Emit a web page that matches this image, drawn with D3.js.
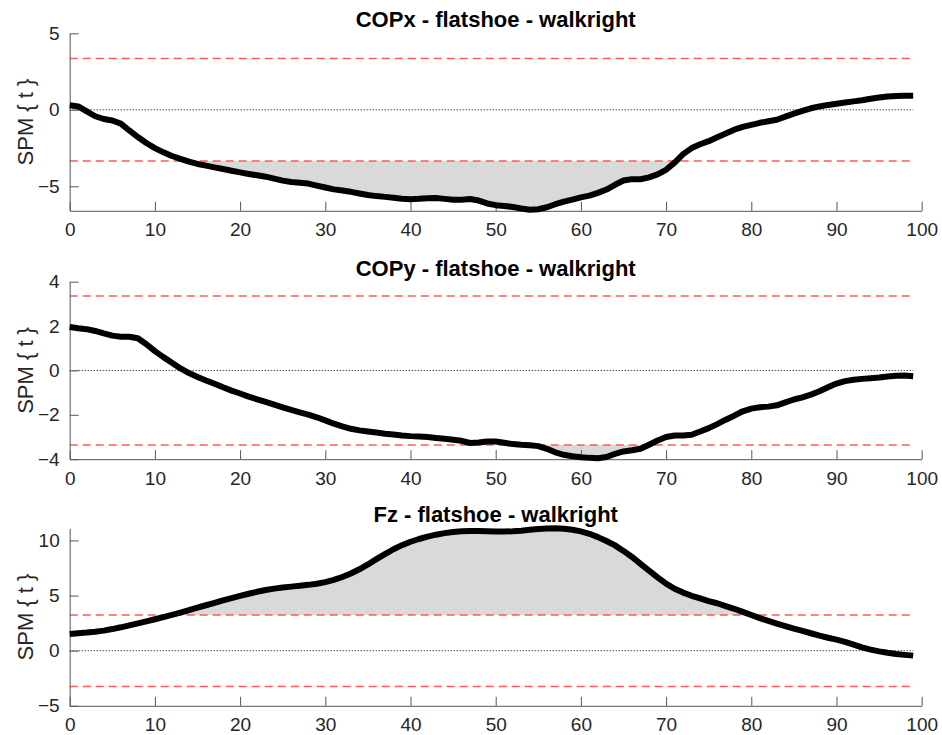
<!DOCTYPE html>
<html>
<head>
<meta charset="utf-8">
<script src="https://cdn.jsdelivr.net/npm/d3@7"></script>
<style>
  body { margin: 0; background: #fff; }
  svg { display: block; font-family: "Liberation Sans", Arial, Helvetica, sans-serif; }
</style>
</head>
<body>
<svg width="942" height="735"></svg>
<script>
// time axis, 0..99 (% of stance)
let nodes = d3.range(0, 100);

let copx = [0.3, 0.22, -0.1, -0.42, -0.6, -0.7, -0.9, -1.35, -1.78, -2.17,
    -2.5, -2.78, -3.02, -3.21, -3.39, -3.54, -3.65, -3.76, -3.87, -3.98,
    -4.09, -4.19, -4.28, -4.37, -4.5, -4.63, -4.72, -4.76, -4.82, -4.95,
    -5.08, -5.2, -5.27, -5.36, -5.47, -5.57, -5.64, -5.69, -5.75, -5.81,
    -5.84, -5.82, -5.78, -5.76, -5.82, -5.88, -5.88, -5.83, -5.93, -6.12,
    -6.23, -6.28, -6.35, -6.45, -6.53, -6.5, -6.37, -6.17, -6.0, -5.87,
    -5.72, -5.61, -5.43, -5.21, -4.9, -4.62, -4.53, -4.54, -4.42, -4.22,
    -3.92, -3.45, -2.9, -2.5, -2.25, -2.05, -1.8, -1.55, -1.3, -1.12,
    -0.98, -0.85, -0.75, -0.65, -0.45, -0.25, -0.07, 0.1, 0.22, 0.32,
    0.4, 0.48, 0.55, 0.62, 0.72, 0.8, 0.87, 0.9, 0.92, 0.92];

let copy = [1.96, 1.9, 1.86, 1.78, 1.67, 1.57, 1.52, 1.52, 1.45, 1.18,
    0.87, 0.6, 0.35, 0.09, -0.12, -0.29, -0.45, -0.6, -0.76, -0.91,
    -1.04, -1.18, -1.3, -1.42, -1.54, -1.66, -1.78, -1.89, -1.99, -2.11,
    -2.25, -2.4, -2.52, -2.63, -2.7, -2.75, -2.8, -2.85, -2.89, -2.93,
    -2.96, -2.98, -3.0, -3.04, -3.08, -3.12, -3.17, -3.27, -3.25, -3.2,
    -3.2, -3.26, -3.32, -3.35, -3.37, -3.41, -3.53, -3.69, -3.8, -3.87,
    -3.91, -3.94, -3.96, -3.9, -3.76, -3.65, -3.6, -3.53, -3.35, -3.16,
    -3.0, -2.93, -2.93, -2.9, -2.75, -2.6, -2.42, -2.22, -2.04, -1.84,
    -1.72, -1.66, -1.63, -1.57, -1.44, -1.31, -1.21, -1.09, -0.94, -0.76,
    -0.59, -0.48, -0.42, -0.38, -0.35, -0.32, -0.27, -0.24, -0.23, -0.26];

let fz = [1.51, 1.58, 1.64, 1.72, 1.82, 1.96, 2.12, 2.3, 2.48, 2.66,
    2.85, 3.05, 3.25, 3.46, 3.68, 3.9, 4.12, 4.34, 4.56, 4.77,
    4.97, 5.16, 5.34, 5.5, 5.63, 5.73, 5.81, 5.89, 5.97, 6.07,
    6.22, 6.42, 6.68, 7.0, 7.38, 7.82, 8.3, 8.76, 9.2, 9.57,
    9.88, 10.13, 10.35, 10.52, 10.66, 10.77, 10.83, 10.86, 10.86, 10.83,
    10.81, 10.81, 10.83, 10.88, 10.96, 11.04, 11.09, 11.1, 11.06, 10.97,
    10.82, 10.6, 10.3, 9.95, 9.55, 9.05, 8.5, 7.88, 7.27, 6.65,
    6.08, 5.62, 5.27, 4.98, 4.74, 4.5, 4.3, 4.05, 3.8, 3.52,
    3.23, 2.95, 2.7, 2.45, 2.22, 2.0, 1.8, 1.58, 1.36, 1.17,
    1.0, 0.8, 0.55, 0.3, 0.1, -0.06, -0.19, -0.3, -0.38, -0.45];

let titles = ["COPx - flatshoe - walkright", "COPy - flatshoe - walkright", "Fz - flatshoe - walkright"];
let series = [copx, copy, fz];
let thresholds = [3.35, 3.36, 3.24];
let yDomains = [[-6.6, 5], [-4, 4], [-5, 11.1]];
let yTicks = [[-5, 0, 5], [-4, -2, 0, 2, 4], [-5, 0, 5, 10]];
let xTicks = d3.range(0, 101, 10);

let svg = d3.select("svg");
let left = 69.7, right = 921.7;
let tops = [33.3, 281.7, 528.3];
let panelH = 177.5;

let x = d3.scaleLinear().domain([0, 100]).range([left, right]);

series.forEach((vals, i) => {
    let top = tops[i];
    let bottom = top + panelH;
    let y = d3.scaleLinear().domain(yDomains[i]).range([bottom, top]);
    let thr = thresholds[i];
    let g = svg.append("g");

    // clip regions beyond each threshold
    let clipUp = "clipUp" + i, clipDn = "clipDn" + i;
    let defs = svg.append("defs");
    defs.append("clipPath").attr("id", clipUp)
        .append("rect").attr("x", 0).attr("y", 0).attr("width", 942).attr("height", y(thr));
    defs.append("clipPath").attr("id", clipDn)
        .append("rect").attr("x", 0).attr("y", y(-thr)).attr("width", 942).attr("height", 735 - y(-thr));

    let areaUp = d3.area().x((d, j) => x(nodes[j])).y0(y(thr)).y1((d) => y(d));
    let areaDn = d3.area().x((d, j) => x(nodes[j])).y0(y(-thr)).y1((d) => y(d));

    g.append("path").datum(vals).attr("d", areaUp)
        .attr("fill", "#d9d9d9").attr("clip-path", `url(#${clipUp})`);
    g.append("path").datum(vals).attr("d", areaDn)
        .attr("fill", "#d9d9d9").attr("clip-path", `url(#${clipDn})`);

    // zero line
    g.append("line")
        .attr("x1", x(0)).attr("x2", x(99))
        .attr("y1", y(0)).attr("y2", y(0))
        .attr("stroke", "#000").attr("stroke-width", 1)
        .attr("stroke-dasharray", "1,2");

    // critical thresholds
    g.selectAll("line.thr")
        .data([thr, -thr])
        .enter()
        .append("line")
        .attr("class", "thr")
        .attr("x1", x(0)).attr("x2", x(99))
        .attr("y1", (d) => y(d)).attr("y2", (d) => y(d))
        .attr("stroke", "#ff5a5a").attr("stroke-width", 1.5)
        .attr("stroke-dasharray", "8,5");

    // axes
    let xAxis = d3.axisBottom(x).tickValues(xTicks).tickSizeInner(-9).tickSizeOuter(0).tickPadding(12);
    let gx = g.append("g").attr("transform", `translate(0,${bottom})`).call(xAxis);
    let yAxis = d3.axisLeft(y).tickValues(yTicks[i]).tickSizeInner(-9).tickSizeOuter(0).tickPadding(10);
    let gy = g.append("g").attr("transform", `translate(${left},0)`).call(yAxis);

    [gx, gy].forEach((a) => {
        a.select(".domain").attr("stroke", "#555").attr("stroke-width", 1);
        a.selectAll(".tick line").attr("stroke", "#555");
        a.selectAll(".tick text")
            .attr("fill", "#262626")
            .style("font-size", "19px")
            .style("font-family", "'Liberation Sans', Arial, sans-serif");
    });
    gx.selectAll(".tick text").attr("dy", "0.71em");

    // SPM curve
    g.append("path").datum(vals)
        .attr("d", d3.line().x((d, j) => x(nodes[j])).y((d) => y(d)))
        .attr("fill", "none").attr("stroke", "#000")
        .attr("stroke-width", 6).attr("stroke-linejoin", "round");

    // title
    g.append("text")
        .attr("x", (left + right) / 2).attr("y", top - 6)
        .attr("text-anchor", "middle")
        .style("font-size", "22px").style("font-weight", "bold")
        .attr("fill", "#000")
        .text(titles[i]);

    // y label
    g.append("text")
        .attr("transform", `translate(33,${(top + bottom) / 2}) rotate(-90)`)
        .attr("text-anchor", "middle")
        .style("font-size", "22px")
        .attr("fill", "#262626")
        .text("SPM { t }");
});
</script>
</body>
</html>
